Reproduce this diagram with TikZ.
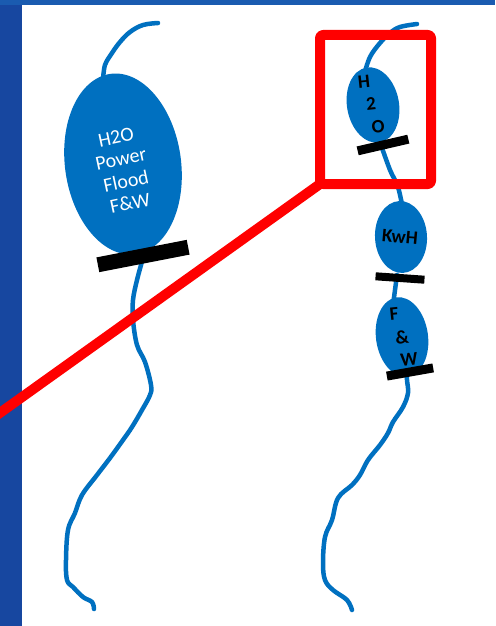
\documentclass[tikz,border=0pt]{standalone}
\usepackage{fontspec}
\setmainfont{Carlito}
\usetikzlibrary{shapes.geometric}
\definecolor{balloon}{HTML}{0070C0}
\definecolor{bandblue}{HTML}{1747A0}
\definecolor{topblue}{HTML}{1A5BB0}
\begin{document}
\begin{tikzpicture}[x=1pt,y=-1pt,
  rope/.style={draw=balloon,line width=4.5pt,line cap=round,line join=round},
  balloonshape/.style={ellipse,fill=balloon,inner sep=0pt},
  tiebar/.style={rectangle,fill=black,inner sep=0pt},
  bigtext/.style={text=white,font=\fontsize{20}{22.5}\selectfont,inner sep=0pt,rotate=12},
  smalltext/.style={text=black,font=\bfseries\fontsize{19}{20}\selectfont,inner sep=0pt},
  redmark/.style={draw=red,line width=10pt,line join=round}]
\clip (0,0) rectangle (495,626);
\fill[white] (0,0) rectangle (495,626);
% left balloon
\coordinate (ltop) at (158,23);
\coordinate (lend) at (94,609);
\draw[rope] plot[smooth,tension=0.6] coordinates {(158,23) (143,25) (130,32) (120,42) (112,53) (105,65) (103,80)};
\draw[rope] plot[smooth,tension=0.6] coordinates {(143,258) (137,280) (133,300) (133,320) (137,345) (145,362) (151,385) (150,395) (142,410) (132,427) (123,440) (110,458) (97,475) (82,495) (75,513) (68,530) (66,560) (67,580) (73,587) (83,597) (92,602) (94,609)};
\node[balloonshape,minimum width=116pt,minimum height=182pt,rotate=8] (b1) at (123,164) {};
\node[tiebar,minimum width=92pt,minimum height=15pt,rotate=11] (t1) at (143,256) {};
\node[bigtext] (l1) at (116,137) {H2O};
\node[bigtext] (l2) at (121,159) {Power};
\node[bigtext] (l3) at (126,181) {Flood};
\node[bigtext] (l4) at (130,203) {F\&W};
% right balloons
\coordinate (rtop) at (417,24);
\draw[rope] plot[smooth,tension=0.6] coordinates {(417,24) (400,27) (390,33) (380,43) (370,57) (364,75)};
\draw[rope] plot[smooth,tension=0.6] coordinates {(381,145) (390,170) (398,187) (403,210)};
\draw[rope] plot[smooth,tension=0.6] coordinates {(397,275) (393,305)};
\draw[rope] plot[smooth,tension=0.6] coordinates {(407,370) (407,380) (408,393) (403,407) (393,422) (388,433) (380,445) (368,460) (360,475) (352,485) (338,498) (332,520) (325,537) (323,563) (325,580) (333,590) (347,600) (352,610)};
\node[balloonshape,minimum width=52pt,minimum height=76pt,rotate=10] (b2) at (373,105) {};
\node[tiebar,minimum width=52pt,minimum height=9pt,rotate=13] (t2) at (383,145) {};
\node[balloonshape,minimum width=52pt,minimum height=72pt,rotate=3] (b3) at (401,237) {};
\node[tiebar,minimum width=49pt,minimum height=8pt,rotate=-4] (t3) at (400,278) {};
\node[balloonshape,minimum width=52pt,minimum height=80pt,rotate=8] (b4) at (402,337) {};
\node[tiebar,minimum width=47pt,minimum height=9pt,rotate=10] (t4) at (410,372) {};
\node[smalltext,rotate=6] (h1) at (364,82) {H};
\node[smalltext,rotate=6] (h2) at (371,104) {2};
\node[smalltext,rotate=6] (h3) at (378,127) {O};
\node[smalltext,rotate=-5] (k1) at (400,237) {KwH};
\node[smalltext,rotate=6] (f1) at (394,314) {F};
\node[smalltext,rotate=6] (f2) at (402,337) {\&};
\node[smalltext,rotate=6] (f3) at (409,359) {W};
% frame bands
\fill[bandblue] (0,0) rectangle (22,626);
\fill[topblue] (0,0) rectangle (495,5);
% red highlight
\coordinate (rc) at (320,184);
\coordinate (rfar) at (-10,420);
\draw[redmark,rounded corners=3pt] (320,35) rectangle (431,184);
\draw[redmark] (rfar) -- (rc);
\end{tikzpicture}
\end{document}
